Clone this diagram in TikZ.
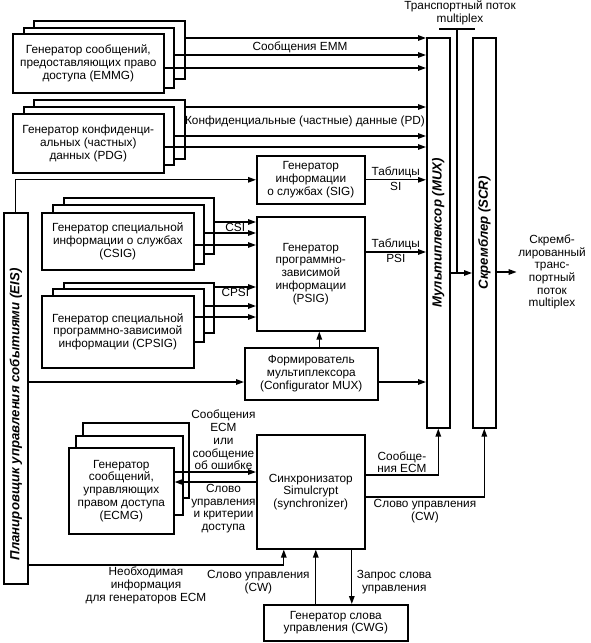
\documentclass[tikz,border=0pt]{standalone}
\usepackage{fontspec}
\setmainfont{Liberation Sans}
\usetikzlibrary{arrows.meta,positioning}

\begin{document}
\begin{tikzpicture}[x=1pt, y=-1pt,
  font=\fontsize{11.8}{12.7}\selectfont,
  box/.style={draw, fill=white, line width=1.6pt, align=center, inner sep=1pt},
  wh/.style 2 args={anchor=north west, minimum width=#1pt, minimum height=#2pt},
  arr/.style={line width=1.35pt, -{Stealth[length=8pt, width=5.5pt, inset=0pt]}},
  wire/.style={line width=1.35pt},
  lbl/.style={align=center, inner sep=1.5pt},
  vlbl/.style={font=\fontsize{13.2}{14}\selectfont\bfseries\itshape, rotate=90}]
\useasboundingbox (0,0) rectangle (590,643);

% multiplexer, scrambler, scheduler
\node[box, wh={23}{390}, label={[vlbl]center:Мультиплексор (MUX)}] (mux) at (426,37) {};
\node[box, wh={23}{390}, label={[vlbl]center:Скремблер (SCR)}] (scr) at (472,37) {};
\node[box, wh={24}{371},
  label={[yshift=-16pt, vlbl]center:Планировщик управления событиями (EIS)}] (eis) at (3,212) {};

% EMMG
\node[box, wh={151}{58}] (emmg3) at (33,20) {};
\node[box, wh={150}{60}] (emmg2) at (23,27) {};
\node[box, wh={151}{59}] (emmg) at (12,33)
  {Генератор сообщений,\\предоставляющих право\\доступа (EMMG)};
% PDG
\node[box, wh={151}{59}] (pdg3) at (33,99) {};
\node[box, wh={150}{58}] (pdg2) at (23,106) {};
\node[box, wh={151}{59}] (pdg) at (12,113)
  {Генератор конфиденци-\\альных (частных)\\данных (PDG)};
% CSIG
\node[box, wh={150}{56}] (csig3) at (63,197) {};
\node[box, wh={151}{59}] (csig2) at (52,204) {};
\node[box, wh={152}{57}] (csig) at (41,212)
  {Генератор специальной\\информации о службах\\(CSIG)};
% CPSIG
\node[box, wh={150}{50}] (cpsig3) at (63,282) {};
\node[box, wh={151}{53}] (cpsig2) at (52,288) {};
\node[box, wh={152}{72}] (cpsig) at (41,295)
  {Генератор специальной\\программно-зависимой\\информации (CPSIG)};
% ECMG
\node[box, wh={106}{75}] (ecmg3) at (82,422) {};
\node[box, wh={107}{79}] (ecmg2) at (75,435) {};
\node[box, wh={105}{86}] (ecmg) at (68,447)
  {Генератор\\сообщений,\\управляющих\\правом доступа\\(ECMG)};

% single blocks
\node[box, wh={108}{48}] (sig) at (256,155)
  {Генератор\\информации\\о службах (SIG)};
\node[box, wh={108}{114}] (psig) at (256,216)
  {Генератор\\программно-\\зависимой\\информации\\(PSIG)};
\node[box, wh={133}{52}] (conf) at (244,347)
  {Формирователь\\мультиплексора\\(Configurator MUX)};
\node[box, wh={108}{114}] (sync) at (256,434)
  {Синхронизатор\\Simulcrypt\\(synchronizer)};
\node[box, wh={144}{36}] (cwg) at (263,604)
  {Генератор слова\\управления (CWG)};

% EMM and PD streams
\draw[arr] (emmg3.east |- 0,38) -- (mux.west |- 0,38);
\draw[arr] (emmg2.east |- 0,55) -- (mux.west |- 0,55);
\draw[arr] (emmg.east |- 0,68) -- (mux.west |- 0,68);
\node[lbl] (emm) at (300,47) {Сообщения EMM};
\draw[arr] (pdg3.east |- 0,107) -- (mux.west |- 0,107);
\draw[arr] (pdg2.east |- 0,136) -- (mux.west |- 0,136);
\draw[arr] (pdg.east |- 0,147) -- (mux.west |- 0,147);
\node[lbl] (pd) at (305,121) {Конфиденциальные (частные) данные (PD)};

% SI / PSI tables
\draw[arr] (eis.north) |- (sig.west);
\draw[arr] (sig.east) -- (sig.east -| mux.west)
  node[lbl, midway, above] (tsi) {Таблицы} node[lbl, midway, below] (si) {SI};
\draw[arr] (psig.east |- 0,252) -- (mux.west |- 0,252)
  node[lbl, midway, above] (tpsi) {Таблицы} node[lbl, midway, below] (psi) {PSI};
\draw[arr] (csig3.east |- 0,222) -- (psig.west |- 0,222)
  node[lbl, inner sep=1pt, midway, below] (csi) {CSI};
\draw[arr] (csig2.east |- 0,233) -- (psig.west |- 0,233);
\draw[arr] (csig.east |- 0,245) -- (psig.west |- 0,245);
\draw[arr] (cpsig3.east |- 0,287) -- (psig.west |- 0,287)
  node[lbl, inner sep=1pt, midway, below] (cpsi) {CPSI};
\draw[arr] (cpsig2.east |- 0,306) -- (psig.west |- 0,306);
\draw[arr] (cpsig.east |- 0,317) -- (psig.west |- 0,317);

% configurator
\draw[arr] (eis.east |- 0,382) -- (conf.west |- 0,382);
\draw[arr] (conf.east |- 0,382) -- (mux.west |- 0,382);
\draw[arr] ([xshift=8pt]conf.north) -- ([xshift=8pt]conf.north |- psig.south);

% ECM side
\draw[arr] (ecmg.east |- 0,472) -- (sync.west |- 0,472)
  node[lbl, pos=.6, above] (ecm) {Сообщения\\ECM\\или\\сообщение\\об ошибке};
\draw[arr] (sync.west |- 0,482) -- (ecmg.east |- 0,482)
  node[lbl, pos=.4, below] (cwac) {Слово\\управления\\и критерии\\доступа};
\draw[arr] (sync.east |- 0,475) -| (mux.south)
  node[lbl, pos=.25, above] (ecmout) {Сообще-\\ния ECM};
\draw[arr] (sync.east |- 0,497) -| (scr.south)
  node[lbl, pos=.25, below] (cwout) {Слово управления\\(CW)};
\draw[arr] (eis.east |- 0,565) -| ([xshift=-27pt]sync.south)
  node[lbl, pos=.23, below] (need) {Необходимая\\информация\\для генераторов ECM};
\draw[arr] ([xshift=-20pt]cwg.north) -- ([xshift=-20pt]cwg.north |- sync.south)
  node[lbl, pos=.4, left=4pt] (cw) {Слово управления\\(CW)};
\draw[arr] ([xshift=16pt]cwg.north |- sync.south) -- ([xshift=16pt]cwg.north)
  node[lbl, pos=.6, right=3pt] (req) {Запрос слова\\управления};

% transport stream
\coordinate (tap) at (457,29);
\draw[wire] ([xshift=-18pt]tap) -- ([xshift=18pt]tap);
\draw[wire] (tap) -- (tap |- 0,273);
\draw[arr] (mux.east |- 0,273) -- (scr.west |- 0,273);
\node[lbl] (ts) at (460,13) {Транспортный поток\\multiplex};
\node[lbl] (out) at (552,272)
  {Скремб-\\лированный\\транс-\\портный\\поток\\multiplex};
\draw[arr] (scr.east |- out.west) -- (out.west);
\end{tikzpicture}
\end{document}
